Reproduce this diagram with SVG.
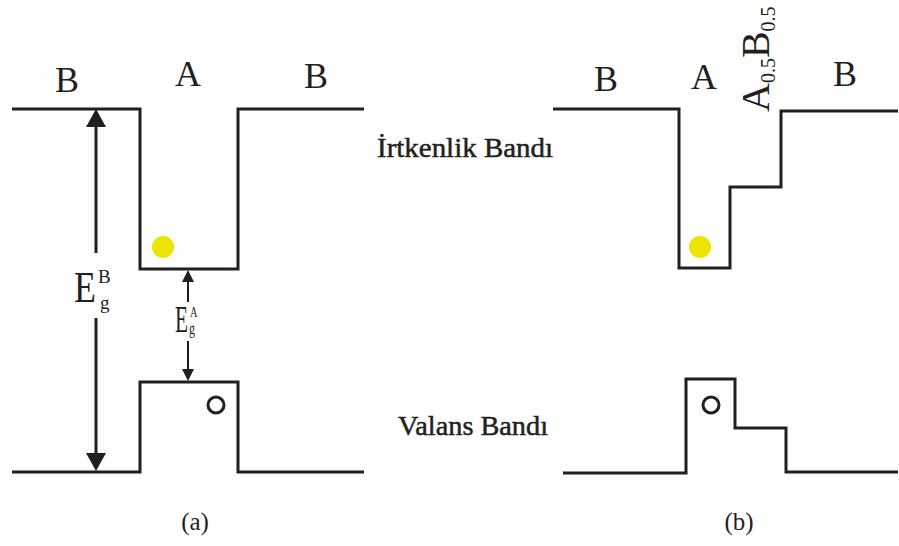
<svg xmlns="http://www.w3.org/2000/svg" width="899" height="546" viewBox="0 0 899 546">
<style>
.band{fill:none;stroke:#231f20;stroke-width:3;stroke-linejoin:miter}
.arr{fill:none;stroke:#231f20;stroke-width:3}
.arr2{fill:none;stroke:#231f20;stroke-width:2}
.lbl{font-family:"Liberation Serif","Times New Roman",serif;fill:#231f20}
.heavy{stroke:#231f20;stroke-width:0.5}
.elec{fill:#ede500}
.hole{fill:none;stroke:#231f20;stroke-width:3}
</style>
<defs>
<marker id="bigHead" markerUnits="userSpaceOnUse" markerWidth="18" markerHeight="20" refX="9" refY="10" orient="auto" viewBox="0 0 18 20">
<path d="M0,0 L18,10 L0,20 z" fill="#231f20"/>
</marker>
<marker id="smallHead" markerUnits="userSpaceOnUse" markerWidth="12" markerHeight="12" refX="6" refY="6" orient="auto" viewBox="0 0 12 12">
<path d="M0,0 L12,6 L0,12 z" fill="#231f20"/>
</marker>
</defs>
<rect width="899" height="546" fill="#ffffff"/>

<g id="diagram-a">
<g id="a-conduction"><path class="band" d="M12,109 H140 V269 H238 V109 H364"/></g>
<g id="a-valence"><path class="band" d="M12,472 H140 V382 H238 V472 H364"/></g>
<g id="a-electron"><circle class="elec" cx="163" cy="247" r="11"/></g>
<g id="a-hole"><circle class="hole" cx="216" cy="405" r="8"/></g>
<g id="a-labels">
<text class="lbl" x="67" y="92" font-size="36" text-anchor="middle">B</text>
<text class="lbl" x="188" y="86" font-size="36" text-anchor="middle">A</text>
<text class="lbl" x="316" y="88" font-size="36" text-anchor="middle">B</text>
</g>
<g id="a-EgB">
<text class="lbl" font-size="45" transform="translate(74,302) scale(0.8,1)">E</text>
<text class="lbl" x="98" y="283" font-size="19">B</text>
<text class="lbl" x="100" y="309" font-size="19">g</text>
</g>
<g id="a-EgA">
<text class="lbl" font-size="38" transform="translate(175,332) scale(0.56,1)">E</text>
<text class="lbl" font-size="15" transform="translate(190,317) scale(0.7,1)">A</text>
<text class="lbl" font-size="17" transform="translate(189,334) scale(0.7,1)">g</text>
</g>
<g id="a-caption"><text class="lbl" x="195" y="530" font-size="25" text-anchor="middle">(a)</text></g>
</g>

<g id="connectors">
<line class="arr" x1="96" y1="253" x2="96" y2="118" marker-end="url(#bigHead)"/>
<line class="arr" x1="96" y1="318" x2="96" y2="462" marker-end="url(#bigHead)"/>
<line class="arr2" x1="188" y1="302" x2="188" y2="276" marker-end="url(#smallHead)"/>
<line class="arr2" x1="188" y1="341" x2="188" y2="375" marker-end="url(#smallHead)"/>
</g>

<g id="band-names">
<text class="lbl heavy" x="377" y="157" font-size="28" textLength="176" lengthAdjust="spacingAndGlyphs">İrtkenlik Bandı</text>
<text class="lbl heavy" x="398" y="435" font-size="28" textLength="150" lengthAdjust="spacingAndGlyphs">Valans Bandı</text>
</g>

<g id="diagram-b">
<g id="b-conduction"><path class="band" d="M553,109 H679 V268 H730 V187 H781 V111 H898"/></g>
<g id="b-valence"><path class="band" d="M563,473 H686 V379 H735 V428 H786 V472 H898"/></g>
<g id="b-electron"><circle class="elec" cx="700" cy="247" r="11"/></g>
<g id="b-hole"><circle class="hole" cx="711" cy="405" r="8"/></g>
<g id="b-labels">
<text class="lbl" x="606" y="91" font-size="36" text-anchor="middle">B</text>
<text class="lbl" x="704" y="89" font-size="36" text-anchor="middle">A</text>
<text class="lbl" x="845" y="86" font-size="36" text-anchor="middle">B</text>
<text class="lbl" font-size="40" transform="translate(769,112) rotate(-90)">A<tspan font-size="20" dy="6">0.5</tspan><tspan dy="-6">B</tspan><tspan font-size="20" dy="6">0.5</tspan></text>
</g>
<g id="b-caption"><text class="lbl" x="739" y="530" font-size="25" text-anchor="middle">(b)</text></g>
</g>
</svg>
